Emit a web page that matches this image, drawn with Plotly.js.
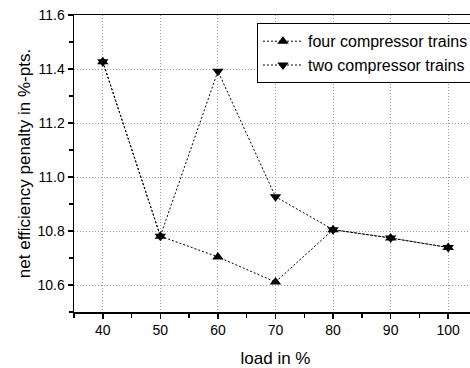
<!DOCTYPE html>
<html>
<head>
<meta charset="utf-8">
<script src="https://cdn.plot.ly/plotly-3.0.1.min.js"></script>
<style>html,body{margin:0;padding:0;overflow:hidden;background:#fff;}#chart{width:480px;height:368px;}</style>
</head>
<body>
<div id="chart"></div>
<script>
const load = [40, 50, 60, 70, 80, 90, 100];
const fourTrains = [11.427, 10.781, 10.704, 10.611, 10.805, 10.774, 10.739];
const twoTrains = [11.427, 10.781, 11.392, 10.927, 10.805, 10.774, 10.739];
const seriesNames = ['four compressor trains', 'two compressor trains'];

const fam = 'Liberation Sans, Arial, sans-serif';
const tickFont = {family: fam, size: 14, color: '#000'};
const titleFont = {family: fam, size: 17, color: '#000'};
const legendFont = {family: fam, size: 16, color: '#000'};

const traces = [
  {x: load, y: fourTrains, name: seriesNames[0], mode: 'lines+markers', type: 'scatter',
   line: {color: '#000', width: 1, dash: '2px,2px'},
   marker: {symbol: 'triangle-up', size: 10, color: '#000'}},
  {x: load, y: twoTrains, name: seriesNames[1], mode: 'lines+markers', type: 'scatter',
   line: {color: '#000', width: 1, dash: '2px,2px'},
   marker: {symbol: 'triangle-down', size: 10, color: '#000'}}
];

const axisCommon = {
  showline: true, linecolor: '#000', linewidth: 1.5, mirror: true,
  ticks: 'outside', ticklen: 5, tickwidth: 1.5, tickcolor: '#000',
  showgrid: true, gridcolor: '#999999', gridwidth: 1, griddash: '1px,2px',
  zeroline: false, tickfont: tickFont
};

const layout = {
  width: 480, height: 368,
  margin: {l: 74, r: 3, t: 15, b: 56},
  paper_bgcolor: '#fff', plot_bgcolor: '#fff',
  font: tickFont,
  showlegend: true,
  legend: {x: 0.454, y: 0.972, xanchor: 'left', yanchor: 'top',
           bgcolor: '#fff', bordercolor: '#000', borderwidth: 1,
           font: legendFont, itemwidth: 40, tracegroupgap: 0},
  xaxis: Object.assign({}, axisCommon, {
    range: [35, 105], dtick: 10, tick0: 0,
    minor: {dtick: 5, ticks: 'outside', ticklen: 4, tickcolor: '#000', tickwidth: 1.5, showgrid: false},
    title: {text: 'load in %', font: titleFont}
  }),
  yaxis: Object.assign({}, axisCommon, {
    range: [10.5, 11.6], dtick: 0.2, tick0: 10.6, tickformat: '.1f',
    minor: {dtick: 0.1, ticks: 'outside', ticklen: 4, tickcolor: '#000', tickwidth: 1.5, showgrid: false},
    title: {text: 'net efficiency penalty in %-pts.', font: titleFont}
  })
};

Plotly.newPlot('chart', traces, layout, {staticPlot: true, displayModeBar: false});
</script>
</body>
</html>
